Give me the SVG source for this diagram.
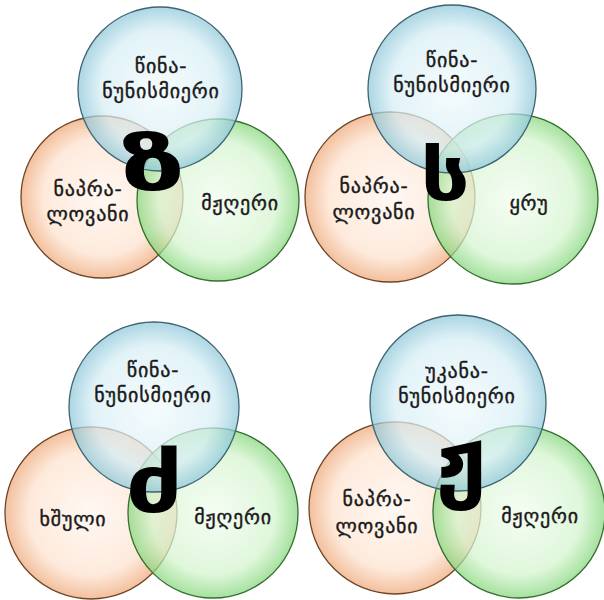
<svg xmlns="http://www.w3.org/2000/svg" width="604" height="600" viewBox="0 0 604 600">
<defs>
<radialGradient id="gb" cx="0.5" cy="0.5" r="0.5">
<stop offset="0" stop-color="#f2fafc"/><stop offset="0.72" stop-color="#d6eef5"/><stop offset="1" stop-color="#8cc6d9"/>
</radialGradient>
<radialGradient id="go" cx="0.5" cy="0.5" r="0.5">
<stop offset="0" stop-color="#fff5ee"/><stop offset="0.72" stop-color="#fde2ce"/><stop offset="1" stop-color="#eea777"/>
</radialGradient>
<radialGradient id="gg" cx="0.5" cy="0.5" r="0.5">
<stop offset="0" stop-color="#f1fcef"/><stop offset="0.72" stop-color="#d4f4ce"/><stop offset="1" stop-color="#84d67a"/>
</radialGradient>
</defs>
<style>
.c{stroke-width:1.3;fill-opacity:0.72}
.b{fill:url(#gb);stroke:#3f6470}
.o{fill:url(#go);stroke:#6e4526}
.g{fill:url(#gg);stroke:#356e30}
.t{font-family:"DejaVu Sans",sans-serif;font-size:20px;letter-spacing:0.8px;fill:#1a1a1a;stroke:#1a1a1a;stroke-width:0.4;text-anchor:middle}
.big{font-family:"DejaVu Sans",sans-serif;font-weight:bold;fill:#000;text-anchor:middle}
</style>
<rect width="604" height="600" fill="#fff"/>
<g id="d1">
<circle class="c o" cx="102" cy="197" r="81"/>
<circle class="c g" cx="218" cy="200" r="81"/>
<circle class="c b" cx="160" cy="89" r="82"/>
<text class="t" x="161" y="73">წინა-</text>
<text class="t" x="161" y="98">ნუნისმიერი</text>
<text class="t" x="88" y="196">ნაპრა-</text>
<text class="t" x="88" y="221">ლოვანი</text>
<text class="t" x="240" y="210">მჟღერი</text>
<text class="big" font-size="72" transform="translate(153,190) scale(1.65,1)">ზ</text>
</g>
<g id="d2">
<circle class="c o" cx="390" cy="197" r="85"/>
<circle class="c g" cx="513" cy="199" r="85"/>
<circle class="c b" cx="452" cy="89" r="84"/>
<text class="t" x="452" y="67">წინა-</text>
<text class="t" x="452" y="92">ნუნისმიერი</text>
<text class="t" x="374" y="193">ნაპრა-</text>
<text class="t" x="374" y="219">ლოვანი</text>
<text class="t" x="529" y="210">ყრუ</text>
<text class="big" font-size="70" transform="translate(445,200) scale(1.25,1)">ს</text>
</g>
<g id="d3">
<circle class="c o" cx="91" cy="513" r="86"/>
<circle class="c g" cx="213" cy="513" r="85"/>
<circle class="c b" cx="154" cy="407" r="85"/>
<text class="t" x="153" y="377">წინა-</text>
<text class="t" x="153" y="402">ნუნისმიერი</text>
<text class="t" x="73" y="526">ხშული</text>
<text class="t" x="233" y="524">მჟღერი</text>
<text class="big" font-size="80" transform="translate(154,512) scale(1.27,1)">ძ</text>
</g>
<g id="d4">
<circle class="c o" cx="395" cy="508" r="86"/>
<circle class="c g" cx="519" cy="512" r="86"/>
<circle class="c b" cx="458" cy="403" r="88"/>
<text class="t" x="457" y="378">უკანა-</text>
<text class="t" x="457" y="403">ნუნისმიერი</text>
<text class="t" x="377" y="506">ნაპრა-</text>
<text class="t" x="377" y="533">ლოვანი</text>
<text class="t" x="540" y="523">მჟღერი</text>
<text class="big" font-size="90" transform="translate(461,490)">ჟ</text>
</g>
</svg>
